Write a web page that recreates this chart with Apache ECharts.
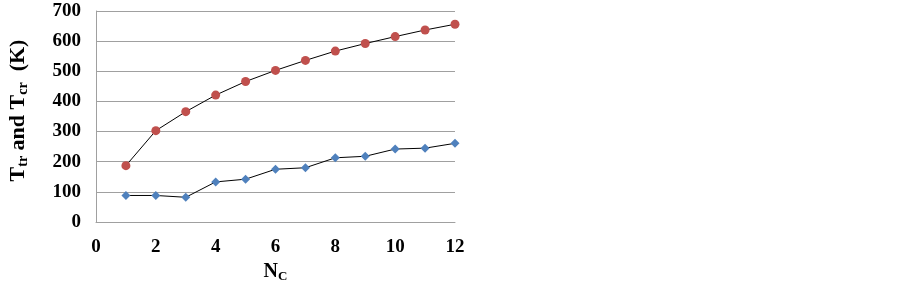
<!DOCTYPE html>
<html><head><meta charset="utf-8">
<script src="https://cdn.jsdelivr.net/npm/echarts@6/dist/echarts.min.js"></script>
<style>html,body{margin:0;padding:0;background:#fff}#c{width:903px;height:286px}</style>
</head><body><div id="c"></div>
<script>
const nc = [1,2,3,4,5,6,7,8,9,10,11,12];
const tcr = [187,303,366,421,466,503,536,567,592,615,637,656];
const ttr = [88,88,82,133,142,175,180,213,218,242,245,261];
const chart = echarts.init(document.getElementById('c'));
const font = '"Liberation Serif","Times New Roman",serif';
chart.setOption({
  animation:false,
  grid:{left:96,top:11,right:448,bottom:64,outerBoundsMode:'none',containLabel:false},
  xAxis:{type:'value',min:0,max:12,interval:2,
    axisLine:{show:true,lineStyle:{color:'#a0a0a0',width:1}},
    axisTick:{show:false},splitLine:{show:false},
    axisLabel:{fontFamily:font,fontWeight:'bold',fontSize:19,color:'#000',margin:16},
    name:'{a|N}{b|C}',nameLocation:'middle',nameGap:38,
    nameTextStyle:{rich:{a:{fontFamily:font,fontWeight:'bold',fontSize:20,color:'#000'},
      b:{fontFamily:font,fontWeight:'bold',fontSize:13,color:'#000',padding:[9,0,0,0]}}}
  },
  yAxis:{type:'value',min:0,max:700,interval:100,
    axisLine:{show:true,lineStyle:{color:'#a0a0a0',width:1}},
    axisTick:{show:false},
    splitLine:{lineStyle:{color:'#a0a0a0',width:1}},
    axisLabel:{fontFamily:font,fontWeight:'bold',fontSize:19,color:'#000',margin:15},
    name:'{a|T}{b|tr}{a| and T}{b|cr}{a|  (K)}',nameLocation:'middle',nameGap:66,
    nameTextStyle:{padding:[0,0,0,12],rich:{a:{fontFamily:font,fontWeight:'bold',fontSize:22,color:'#000'},
      b:{fontFamily:font,fontWeight:'bold',fontSize:14,color:'#000',padding:[10,0,0,0]}}}
  },
  series:[
    {type:'line',data:nc.map((x,i)=>[x,tcr[i]]),symbol:'circle',symbolSize:9,
     lineStyle:{color:'#000',width:1},itemStyle:{color:'#C0504D'}},
    {type:'line',data:nc.map((x,i)=>[x,ttr[i]]),symbol:'diamond',symbolSize:9,
     lineStyle:{color:'#000',width:1},itemStyle:{color:'#4F81BD'}}
  ]
});
</script></body></html>
